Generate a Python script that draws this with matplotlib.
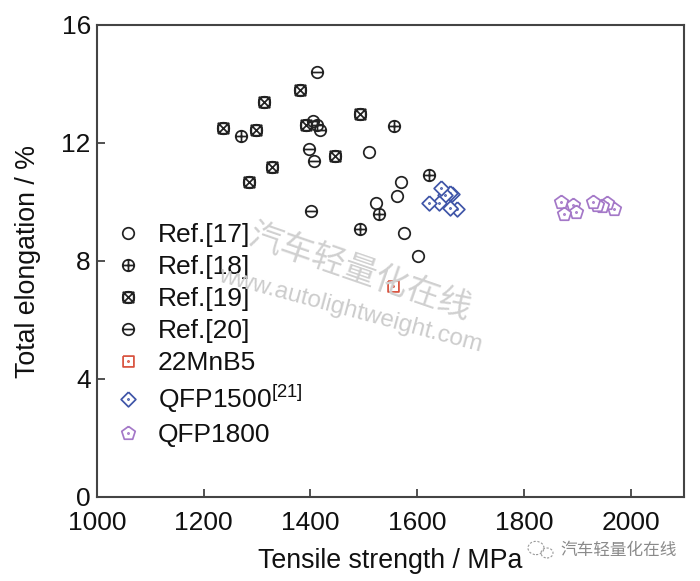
import numpy as np
import matplotlib
matplotlib.use('Agg')
import matplotlib.pyplot as plt
from matplotlib.path import Path
from matplotlib.patches import Circle

plt.rcParams['font.family'] = ['Liberation Sans', 'DejaVu Sans']
plt.rcParams['mathtext.default'] = 'regular'

ref17_x = [1510, 1570, 1562, 1523, 1575, 1602]
ref17_y = [11.69, 10.68, 10.2, 9.97, 8.95, 8.17]
ref18_x = [1270, 1557, 1622, 1529, 1493, 1412]
ref18_y = [12.25, 12.58, 10.9, 9.6, 9.08, 12.6]
ref19_x = [1380, 1313, 1493, 1236, 1298, 1392, 1446, 1328, 1285]
ref19_y = [13.8, 13.39, 13.0, 12.5, 12.44, 12.6, 11.56, 11.2, 10.68]
ref20_x = [1412, 1397, 1407, 1401, 1405, 1418]
ref20_y = [14.4, 11.8, 11.39, 9.7, 12.73, 12.44]
mnb_x = [1555]
mnb_y = [7.15]
q1500_x = [1665, 1662, 1652, 1675, 1662, 1641, 1622, 1645]
q1500_y = [10.27, 10.3, 10.24, 9.76, 9.8, 9.97, 9.97, 10.47]
q1800_x = [1969, 1955, 1947, 1937, 1930, 1892, 1870, 1898, 1875]
q1800_y = [9.76, 9.95, 9.86, 9.9, 10.0, 9.9, 10.0, 9.66, 9.6]
labels = ['Ref.[17]', 'Ref.[18]', 'Ref.[19]', 'Ref.[20]', '22MnB5',
          'QFP1500$^{[21]}$', 'QFP1800']
xticks = [1000, 1200, 1400, 1600, 1800, 2000]
yticks = [0, 4, 8, 12, 16]

BLACK = '#222222'
RED = '#d8503c'
BLUE = '#3f55a8'
PURPLE = '#a478c8'


def compound(*paths):
    return Path.make_compound_path(*paths)


circle = Path.unit_circle()
hline = Path([(-1, 0), (1, 0)])
vline = Path([(0, -1), (0, 1)])
d = 0.9
diag1 = Path([(-d, -d), (d, d)])
diag2 = Path([(-d, d), (d, -d)])
square = Path([(-d, -d), (d, -d), (d, d), (-d, d), (-d, -d)])
m_plus = compound(circle, hline, vline)
m_x = compound(circle, square, diag1, diag2)
m_minus = compound(circle, hline)


def dot(r=0.09):
    return Path(Path.unit_circle().vertices * r, Path.unit_circle().codes)


def poly(n, rot=0.0, r=1.0):
    a = np.pi / 2 + rot + np.arange(n + 1) * 2 * np.pi / n
    return Path(np.c_[r * np.cos(a), r * np.sin(a)])


m_square = compound(poly(4, np.pi / 4, 1.25), dot())
m_diamond = compound(poly(4, 0, 1.25), dot())
m_pent = compound(poly(5, 0, 1.1), dot())

fig = plt.figure(figsize=(7, 5.81), dpi=100)
ax = fig.add_axes([97 / 700, 1 - 497 / 581, (684 - 97) / 700, (497 - 25) / 581])
ax.set_xlim(1000, 2100)
ax.set_ylim(0, 16)

LW = 1.25
kw = dict(linestyle='none', markeredgewidth=LW, clip_on=False)
ax.plot(ref17_x, ref17_y, marker='o', ms=8.3, mfc='none', mec=BLACK, label=labels[0], **kw)
ax.plot(ref18_x, ref18_y, marker=m_plus, ms=8.3, mfc='none', mec=BLACK, label=labels[1], **kw)
ax.plot(ref19_x, ref19_y, marker=m_x, ms=8.3, mfc='none', mec=BLACK, label=labels[2], **kw)
ax.plot(ref20_x, ref20_y, marker=m_minus, ms=8.3, mfc='none', mec=BLACK, label=labels[3], **kw)
ax.plot(mnb_x, mnb_y, marker=m_square, ms=7.8, mfc='none', mec=RED, label=labels[4], **kw)
ax.plot(q1500_x, q1500_y, marker=m_diamond, ms=10.6, mfc='white', mec=BLUE, label=labels[5], **kw)
ax.plot(q1800_x, q1800_y, marker=m_pent, ms=10.2, mfc='white', mec=PURPLE, label=labels[6], **kw)

ax.set_xticks(xticks)
ax.set_yticks(yticks)
ax.tick_params(axis='x', pad=10)
ax.tick_params(axis='y', pad=4.5)
ax.tick_params(axis='both', direction='in', length=6, width=1.2, color='#333333',
               labelsize=19, labelcolor='#111111')
for s in ax.spines.values():
    s.set_linewidth(1.5)
    s.set_color('#444444')
ax.set_xlabel('Tensile strength / MPa', fontsize=19.3, color='#111111', labelpad=9.5)
ax.set_ylabel('Total elongation / %', fontsize=19.3, color='#111111', labelpad=15)

leg = ax.legend(loc='lower left', bbox_to_anchor=(0.028, 0.106), frameon=False, fontsize=19,
                labelspacing=0.30, handletextpad=0.59, handlelength=1.1,
                borderpad=0, borderaxespad=0, numpoints=1)
for t in leg.get_texts():
    t.set_color('#111111')

# watermark
wm = '汽车轻量化在线'
fam = ['Noto Sans CJK SC', 'DejaVu Sans']
fig.text(360 / 700, 1 - 272 / 581, wm, fontsize=24, color='#d0d0d0', rotation=-19,
         ha='center', va='center', family=fam, fontweight='light', zorder=10)
fig.text(350 / 700, 1 - 311 / 581, 'www.autolightweight.com', fontsize=17.5, color='#cccccc',
         rotation=-15, ha='center', va='center', zorder=10)
fig.text(619 / 700, 1 - 551 / 581, wm, fontsize=12, color='#8a8a8a',
         ha='center', va='center', family=fam)
for cx, cy, r in [(536, 548, 8), (547, 553, 6)]:
    fig.add_artist(Circle((cx / 700, 1 - cy / 581), r / 700, transform=fig.transFigure,
                          fill=False, ec='#999999', lw=0.8, ls=(0, (2, 1.5))))

fig.savefig('out.png', dpi=100)
